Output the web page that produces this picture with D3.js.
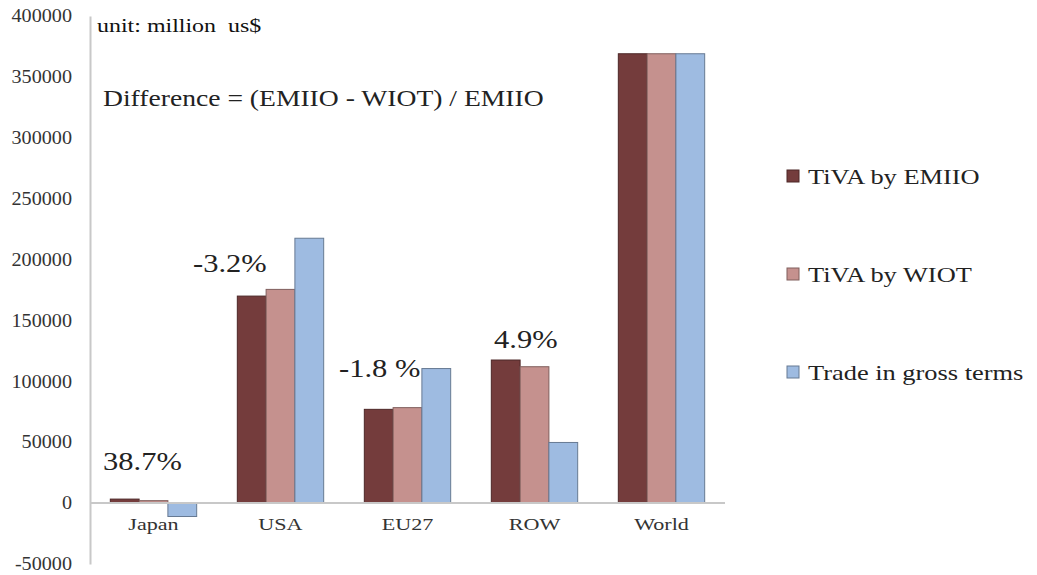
<!DOCTYPE html>
<html>
<head>
<meta charset="utf-8">
<script src="https://cdn.jsdelivr.net/npm/d3@7/dist/d3.min.js"></script>
<style>
  body { margin: 0; background: #fff; }
  svg text { font-family: "Liberation Serif", "Times New Roman", serif; }
</style>
</head>
<body>
<svg id="chart" width="1037" height="575"></svg>
<script>
var regions = ['Japan', 'USA', 'EU27', 'ROW', 'World'];
var seriesNames = ['TiVA by EMIIO', 'TiVA by WIOT', 'Trade in gross terms'];
var tivaEmiio = [3300, 170000, 77000, 117500, 369000];
var tivaWiot = [2000, 175500, 78400, 112000, 369000];
var grossTrade = [-11000, 217500, 110500, 49800, 369000];
var diffLabels = ['38.7%', '-3.2%', '-1.8 %', '4.9%', ''];
var yTicks = [-50000, 0, 50000, 100000, 150000, 200000, 250000, 300000, 350000, 400000];

var colors = ['#743c3c', '#c5918e', '#9ebbe1'];
var seriesValues = [tivaEmiio, tivaWiot, grossTrade];

var svg = d3.select('#chart');

// the picture is a bit wider than the font, stretch the glyphs to match
function stretch(sel, s) {
  sel.each(function() {
    var len = this.getComputedTextLength();
    d3.select(this)
      .attr('textLength', len * s)
      .attr('lengthAdjust', 'spacingAndGlyphs');
  });
}

var y = d3.scaleLinear()
  .domain([-50000, 400000])
  .range([564, 16]);

var x = d3.scaleBand()
  .domain(regions)
  .range([90, 725])
  .paddingInner(0.32)
  .paddingOuter(0.16);

var xInner = d3.scaleBand()
  .domain(d3.range(seriesNames.length))
  .range([0, x.bandwidth()]);

// y axis
var yAxis = svg.append('g')
  .attr('transform', 'translate(90,0)')
  .call(d3.axisLeft(y).tickValues(yTicks).tickSize(0).tickPadding(18)
    .tickFormat(function(d) { return String(d); }));
yAxis.select('.domain').attr('stroke', '#c8c8c8').attr('stroke-width', 2);
yAxis.selectAll('text')
  .attr('font-size', 18)
  .attr('fill', '#333')
  .attr('font-family', '"Liberation Serif", serif')
  .call(stretch, 1.12);

// bars
regions.forEach(function(region, i) {
  var g = svg.append('g').attr('transform', 'translate(' + x(region) + ',0)');
  g.selectAll('rect')
    .data(seriesValues.map(function(vals, k) { return { k: k, v: vals[i] }; }))
    .join('rect')
    .attr('x', function(d) { return xInner(d.k); })
    .attr('y', function(d) { return y(Math.max(0, d.v)); })
    .attr('width', xInner.bandwidth())
    .attr('height', function(d) { return Math.abs(y(d.v) - y(0)); })
    .attr('fill', function(d) { return colors[d.k]; })
    .attr('stroke', function(d) { return d3.color(colors[d.k]).darker(1.2); })
    .attr('stroke-width', 1);
});

// x axis line at zero
svg.append('line')
  .attr('x1', 90).attr('x2', 725)
  .attr('y1', y(0)).attr('y2', y(0))
  .attr('stroke', '#c8c8c8')
  .attr('stroke-width', 2);

svg.append('g').selectAll('text')
  .data(regions)
  .join('text')
  .attr('x', function(d) { return x(d) + x.bandwidth() / 2; })
  .attr('y', 530)
  .attr('text-anchor', 'middle')
  .attr('font-size', 17)
  .attr('fill', '#333')
  .text(function(d) { return d; })
  .call(stretch, 1.3);

// difference labels
var diffPos = [[103, 470], [193, 272], [339, 377], [494, 348]];
svg.append('g').selectAll('text')
  .data(diffLabels.filter(function(d) { return d; }))
  .join('text')
  .attr('x', function(d, i) { return diffPos[i][0]; })
  .attr('y', function(d, i) { return diffPos[i][1]; })
  .attr('font-size', 25)
  .attr('fill', '#222')
  .text(function(d) { return d; })
  .call(stretch, 1.22);

svg.append('text')
  .attr('x', 97).attr('y', 32)
  .attr('font-size', 19)
  .attr('fill', '#111')
  .attr('xml:space', 'preserve')
  .text('unit: million  us$')
  .call(stretch, 1.26);

svg.append('text')
  .attr('x', 103).attr('y', 106)
  .attr('font-size', 23)
  .attr('fill', '#222')
  .text('Difference = (EMIIO - WIOT) / EMIIO')
  .call(stretch, 1.2);

// legend
var legendY = [176, 274, 372];
var legend = svg.append('g').selectAll('g')
  .data(seriesNames)
  .join('g')
  .attr('transform', function(d, i) { return 'translate(787,' + legendY[i] + ')'; });
legend.append('rect')
  .attr('x', 0).attr('y', -6)
  .attr('width', 12).attr('height', 12)
  .attr('fill', function(d, i) { return colors[i]; })
  .attr('stroke', function(d, i) { return d3.color(colors[i]).darker(1.2); });
legend.append('text')
  .attr('x', 21).attr('y', 8)
  .attr('font-size', 22)
  .attr('fill', '#222')
  .text(function(d) { return d; })
  .call(stretch, 1.2);
</script>
</body>
</html>
